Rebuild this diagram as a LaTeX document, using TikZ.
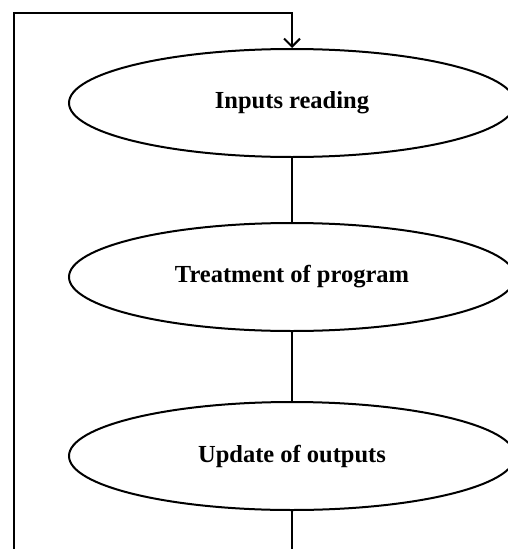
\documentclass[tikz,border=0pt]{standalone}
\usepackage{fontspec}
\setmainfont{Liberation Serif}
\usetikzlibrary{shapes.geometric,arrows.meta}

\begin{document}
\begin{tikzpicture}[x=1pt,y=-1pt,
  step box/.style={draw, ellipse, line width=2pt, minimum width=446pt,
    minimum height=108pt, inner sep=0pt, font=\fontsize{24.5}{28}\selectfont\bfseries},
  flow/.style={line width=2.6pt}]

\useasboundingbox (0,0) rectangle (507,549);

\node [step box] (inp) at (292,103) {Inputs reading};
\node [step box] (trt) at (292,277) {Treatment of program};
\node [step box] (upd) at (292,456) {Update of outputs};

% loop back from the bottom edge
\coordinate (down) at (292,549);
\coordinate (back) at (14,549);
\coordinate (top) at (14,13);

\draw[flow] (inp.south) -- (trt.north);
\draw[flow] (trt.south) -- (upd.north);
\draw[flow] (upd.south) -- (down);
\draw[flow, -{Straight Barb[length=8pt,width=16pt,line width=2pt]}] (back) -- (top) -| (inp.north);

\end{tikzpicture}
\end{document}
